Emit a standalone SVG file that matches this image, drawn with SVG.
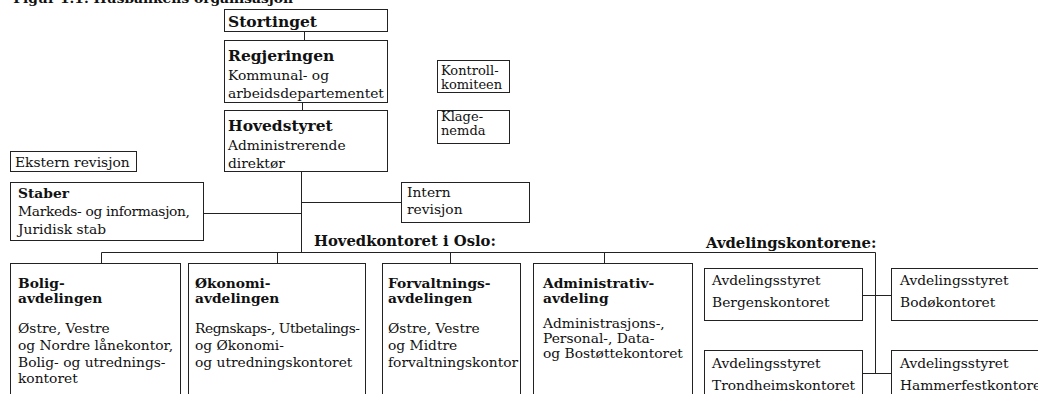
<svg xmlns="http://www.w3.org/2000/svg" width="1038" height="394" viewBox="0 0 1038 394">
<style>
text{font-family:"DejaVu Serif","Liberation Serif",serif;fill:#111;font-size:13.8px}
.b{font-weight:bold}
.h{font-weight:bold;font-size:15.5px}
.l{font-weight:bold;font-size:14.8px}
.s{font-size:13px}
rect{fill:#fff;stroke:#222;stroke-width:1}
#connectors path{fill:none;stroke:#222;stroke-width:1}
</style>
<rect x="0" y="0" width="1038" height="394" style="stroke:none"/>
<text class="b" x="293" y="2.5" text-anchor="end" font-size="15.5">Figur 1.1. Husbankens organisasjon</text>
<g id="connectors">
<path d="M304.5 31V40M302.5 102V110M301.5 171V252.5M203 213.5H301.5M301.5 202.5H401M101.5 252.5H875.5V373.5M101.5 252.5V263M277.5 252.5V263M450.5 252.5V263M604.5 252.5V263M862 295.5H891M862 373.5H891"/>
</g>
<g id="stortinget"><rect x="224.5" y="9.5" width="163" height="22"/><text class="h" x="228" y="27">Stortinget</text></g>
<g id="regjeringen"><rect x="224.5" y="40.5" width="163" height="62"/><text class="h" x="228" y="61">Regjeringen</text><text x="228" y="80">Kommunal- og</text><text x="228" y="98">arbeidsdepartementet</text></g>
<g id="hovedstyret"><rect x="224.5" y="110.5" width="163" height="61"/><text class="h" x="228" y="131">Hovedstyret</text><text x="228" y="150">Administrerende</text><text x="228" y="168">direktør</text></g>
<g id="kontrollkomiteen"><rect x="437.5" y="60.5" width="72" height="32"/><text class="s" x="441" y="75">Kontroll-</text><text class="s" x="441" y="89">komiteen</text></g>
<g id="klagenemda"><rect x="437.5" y="110.5" width="72" height="33"/><text class="s" x="441" y="121" font-size="12.5">Klage-</text><text class="s" x="441" y="134.5" font-size="12.5">nemda</text></g>
<g id="ekstern"><rect x="10.5" y="151.5" width="126" height="20"/><text x="15" y="167">Ekstern revisjon</text></g>
<g id="staber"><rect x="10.5" y="182.5" width="193" height="58"/><text class="b" x="18" y="198">Staber</text><text x="18" y="216" textLength="172">Markeds- og informasjon,</text><text x="18" y="234">Juridisk stab</text></g>
<g id="intern"><rect x="401.5" y="182.5" width="128" height="40"/><text x="407" y="197">Intern</text><text x="407" y="214">revisjon</text></g>
<text class="l" x="314" y="246">Hovedkontoret i Oslo:</text>
<text class="l" x="706" y="248">Avdelingskontorene:</text>
<g id="bolig"><rect x="10.5" y="263.5" width="170" height="140"/><text class="b" x="18" y="288">Bolig-</text><text class="b" x="18" y="303">avdelingen</text><text x="18" y="333">Østre, Vestre</text><text x="18" y="350">og Nordre lånekontor,</text><text x="18" y="367">Bolig- og utrednings-</text><text x="18" y="383">kontoret</text></g>
<g id="okonomi"><rect x="188.5" y="263.5" width="177" height="140"/><text class="b" x="195" y="288">Økonomi-</text><text class="b" x="195" y="303">avdelingen</text><text x="195" y="333" textLength="165">Regnskaps-, Utbetalings-</text><text x="195" y="350">og Økonomi-</text><text x="195" y="367">og utredningskontoret</text></g>
<g id="forvaltning"><rect x="382.5" y="263.5" width="138" height="140"/><text class="b" x="388" y="288">Forvaltnings-</text><text class="b" x="388" y="303">avdelingen</text><text x="388" y="333">Østre, Vestre</text><text x="388" y="350">og Midtre</text><text x="388" y="367">forvaltningskontor</text></g>
<g id="administrativ"><rect x="533.5" y="263.5" width="159" height="140"/><text class="b" x="543" y="288">Administrativ-</text><text class="b" x="543" y="303">avdeling</text><text x="543" y="328">Administrasjons-,</text><text x="543" y="343">Personal-, Data-</text><text x="543" y="358">og Bostøttekontoret</text></g>
<g id="bergen"><rect x="704.5" y="268.5" width="158" height="52"/><text x="712" y="285">Avdelingsstyret</text><text x="712" y="307">Bergenskontoret</text></g>
<g id="bodo"><rect x="891.5" y="268.5" width="160" height="52"/><text x="900" y="285">Avdelingsstyret</text><text x="900" y="307">Bodøkontoret</text></g>
<g id="trondheim"><rect x="704.5" y="350.5" width="158" height="60"/><text x="712" y="368">Avdelingsstyret</text><text x="712" y="390">Trondheimskontoret</text></g>
<g id="hammerfest"><rect x="891.5" y="350.5" width="160" height="60"/><text x="900" y="368">Avdelingsstyret</text><text x="900" y="390">Hammerfestkontoret</text></g>
</svg>
